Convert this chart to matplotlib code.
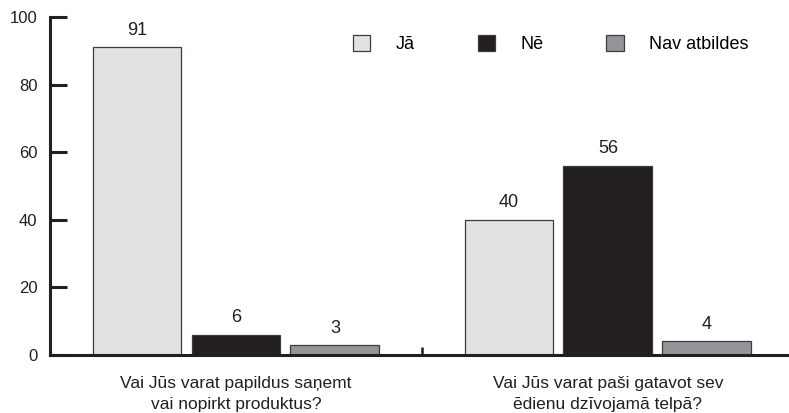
import numpy as np
import matplotlib.pyplot as plt
from matplotlib.ticker import FixedLocator

plt.rcParams['font.family'] = ['Liberation Sans', 'DejaVu Sans']

questions = ['Vai Jūs varat papildus saņemt\nvai nopirkt produktus?',
             'Vai Jūs varat paši gatavot sev\nēdienu dzīvojamā telpā?']
answers = ['Jā', 'Nē', 'Nav atbildes']
values = {
    'Jā': [91, 40],
    'Nē': [6, 56],
    'Nav atbildes': [3, 4],
}
colors = ['#e1e2e4', '#231f20', '#939598']
yticks = [0, 20, 40, 60, 80, 100]

fig = plt.figure(figsize=(7.89, 4.13), dpi=100)
ax = fig.add_axes([50 / 789, 58 / 413, 739 / 789, 338 / 413])

x = np.arange(len(questions))
width = 0.239
step = 0.266
for i, ans in enumerate(answers):
    bars = ax.bar(x + (i - 1) * step, values[ans], width, color=colors[i],
                  edgecolor='#3c3c3c', linewidth=0.9, label=ans)
    ax.bar_label(bars, padding=6, fontsize=13, color='#231f20')

ax.set_xlim(-0.5, 1.487)
ax.set_ylim(0, 100)

for s in ['top', 'right']:
    ax.spines[s].set_visible(False)
for s in ['left', 'bottom']:
    ax.spines[s].set_linewidth(2.2)
    ax.spines[s].set_color('#231f20')

ax.yaxis.set_major_locator(FixedLocator(yticks))
ax.tick_params(axis='y', direction='in', length=12.5, width=2.2, pad=9,
               labelsize=12, color='#231f20', labelcolor='#231f20')
ax.set_xticks([0.5])
ax.set_xticklabels([''])
ax.tick_params(axis='x', direction='in', length=6, width=1.8, color='#231f20')

# question labels under each group
for xi, q in zip(x, questions):
    ax.text(xi, -11.4, q, ha='center', va='center', fontsize=12.5,
            color='#231f20', linespacing=1.5)

ax.legend(loc='center left', bbox_to_anchor=(0.41, 0.92), ncol=3, frameon=False,
          fontsize=13, handlelength=0.95, handleheight=0.95, handletextpad=1.4,
          columnspacing=3.5, borderaxespad=0, borderpad=0)

fig.savefig('out.png', dpi=100)
